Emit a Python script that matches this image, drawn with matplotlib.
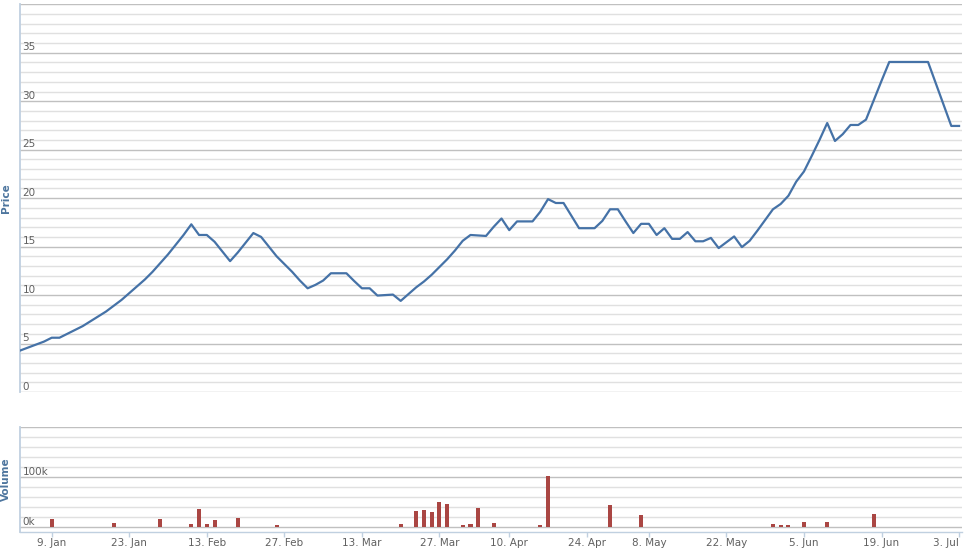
import matplotlib
matplotlib.use('Agg')
import matplotlib.pyplot as plt
import pandas as pd

# trading days (Jan 3 - Jul 3 2017, market holidays removed)
holidays = ['2017-01-26', '2017-01-27', '2017-01-30', '2017-01-31', '2017-02-01',
            '2017-04-06', '2017-05-01', '2017-05-02']
dates = pd.bdate_range('2017-01-03', '2017-07-03').drop(pd.to_datetime(holidays))

price = [
    4.3, 4.6, 4.9, 5.2, 5.6, 5.6, 6.0, 6.4, 6.8, 7.3,
    7.8, 8.3, 8.9, 9.5, 10.2, 10.9, 11.6, 12.4, 13.3, 14.2,
    15.2, 16.2, 17.3, 16.2, 16.2, 15.5, 14.5, 13.5, 14.4, 15.4,
    16.4, 16.0, 15.0, 14.0, 13.2, 12.4, 11.5, 10.7, 11.05, 11.5,
    12.25, 12.25, 12.25, 11.45, 10.7, 10.7, 9.95, 10.0, 10.05, 9.4,
    10.1, 10.8, 11.4, 12.1, 12.9, 13.7, 14.6, 15.6, 16.2, 16.15,
    16.1, 17.05, 17.9, 16.7, 17.6, 17.6, 17.6, 18.6, 19.9, 19.5,
    19.5, 18.2, 16.9, 16.9, 16.9, 17.65, 18.85, 18.85, 17.6, 16.4,
    17.35, 17.35, 16.2, 16.9, 15.8, 15.8, 16.5, 15.55, 15.55, 15.9,
    14.85, 15.45, 16.05, 14.95, 15.6, 16.65, 17.75, 18.85, 19.4, 20.25,
    21.7, 22.75, 24.35, 26.0, 27.75, 25.9, 26.6, 27.55, 27.55, 28.1,
    30.1, 32.1, 34.05, 34.05, 34.05, 34.05, 34.05, 34.05, 31.85, 29.65,
    27.45, 27.45,
]

volume = [
    0, 0, 0, 0, 17000, 0, 0, 0, 0, 0,
    0, 0, 9000, 0, 0, 0, 0, 0, 17000, 0,
    0, 0, 7000, 37000, 7000, 15000, 0, 0, 19000, 0,
    0, 0, 0, 5000, 0, 0, 0, 0, 0, 0,
    0, 0, 0, 0, 0, 0, 0, 0, 0, 7000,
    0, 33000, 35000, 31000, 51000, 47000, 0, 5000, 7000, 39000,
    0, 9000, 0, 0, 0, 0, 0, 5000, 103000, 0,
    0, 0, 0, 0, 0, 0, 45000, 0, 0, 0,
    25000, 0, 0, 0, 0, 0, 0, 0, 0, 0,
    0, 0, 0, 0, 0, 0, 0, 7000, 5000, 5000,
    0, 11000, 0, 0, 11000, 0, 0, 0, 0, 0,
    27000, 0, 0, 0, 0, 0, 0, 0, 0, 0,
    0, 0,
]

tick_dates = ['2017-01-09', '2017-01-23', '2017-02-13', '2017-02-27', '2017-03-13',
              '2017-03-27', '2017-04-10', '2017-04-24', '2017-05-08', '2017-05-22',
              '2017-06-05', '2017-06-19', '2017-07-03']
price_ticks = [0, 5, 10, 15, 20, 25, 30, 35]
volume_ticks = [0, 100000]
volume_labels = ['0k', '100k']

W, H = 968, 554
LABEL = '#606060'
TITLE = '#4d759e'
AXIS = '#C0D0E0'

fig = plt.figure(figsize=(W / 100, H / 100), dpi=100)


def px_axes(left, top, right, bottom):
    return fig.add_axes([left / W, 1 - bottom / H, (right - left) / W, (bottom - top) / H])


idx = list(range(len(dates)))
xlim = (-0.09, 121.38)


def style_axes(ax, major, minor):
    ax.set_xlim(*xlim)
    ax.set_yticks(major)
    ax.set_yticks(minor, minor=True)
    ax.grid(which='major', axis='y', color='#C0C0C0', lw=1)
    ax.grid(which='minor', axis='y', color='#E0E0E0', lw=1)
    ax.set_axisbelow(True)
    ax.tick_params(axis='y', which='both', length=0, labelleft=False)
    for s in ['top', 'right', 'bottom']:
        ax.spines[s].set_visible(False)
    ax.spines['left'].set_color(AXIS)
    ax.spines['left'].set_linewidth(1.3)


# price panel
ax_p = px_axes(20, 4.3, 962, 392)
ax_p.plot(idx, price, color='#4572A7', lw=1.6, solid_joinstyle='round', zorder=3)
ax_p.set_ylim(0, 40)
style_axes(ax_p, list(range(0, 41, 5)), list(range(0, 41, 1)))
ax_p.set_xticks([])
for v in price_ticks:
    ax_p.annotate(str(v), xy=(0, v), xycoords=('axes fraction', 'data'),
                  xytext=(2.5, 2.5), textcoords='offset pixels',
                  ha='left', va='baseline', fontsize=7.5, color=LABEL)

# volume panel
ax_v = px_axes(20, 427, 962, 531.7)
ax_v.bar(idx, volume, width=0.52, color='#AA4643', zorder=3)
ax_v.set_ylim(-8800, 200000)
style_axes(ax_v, [0, 100000, 200000], list(range(0, 200001, 20000)))
ax_v.spines['bottom'].set_visible(True)
ax_v.spines['bottom'].set_color(AXIS)
ax_v.spines['bottom'].set_linewidth(1)
for v, lab in zip(volume_ticks, volume_labels):
    ax_v.annotate(lab, xy=(0, v), xycoords=('axes fraction', 'data'),
                  xytext=(2.5, 2.5), textcoords='offset pixels',
                  ha='left', va='baseline', fontsize=7.5, color=LABEL)

tick_idx = [dates.get_loc(pd.Timestamp(d)) for d in tick_dates]
tick_lab = [f"{pd.Timestamp(d).day}. {pd.Timestamp(d).strftime('%b')}" for d in tick_dates]
ax_v.set_xticks(tick_idx)
ax_v.set_xticklabels(tick_lab)
ax_v.tick_params(axis='x', direction='out', length=3.3, width=1, color=AXIS,
                 pad=1.5, labelsize=7.5, labelcolor=LABEL)
# last label kept inside the figure, like the original
last = ax_v.get_xticklabels()[-1]
last.set_horizontalalignment('right')

fig.text(6 / W, 1 - 198 / H, 'Price', rotation=90, ha='center', va='center',
         fontsize=7.5, fontweight='bold', color=TITLE)
fig.text(6 / W, 1 - 479 / H, 'Volume', rotation=90, ha='center', va='center',
         fontsize=7.5, fontweight='bold', color=TITLE)

fig.savefig('out.png', dpi=100)
